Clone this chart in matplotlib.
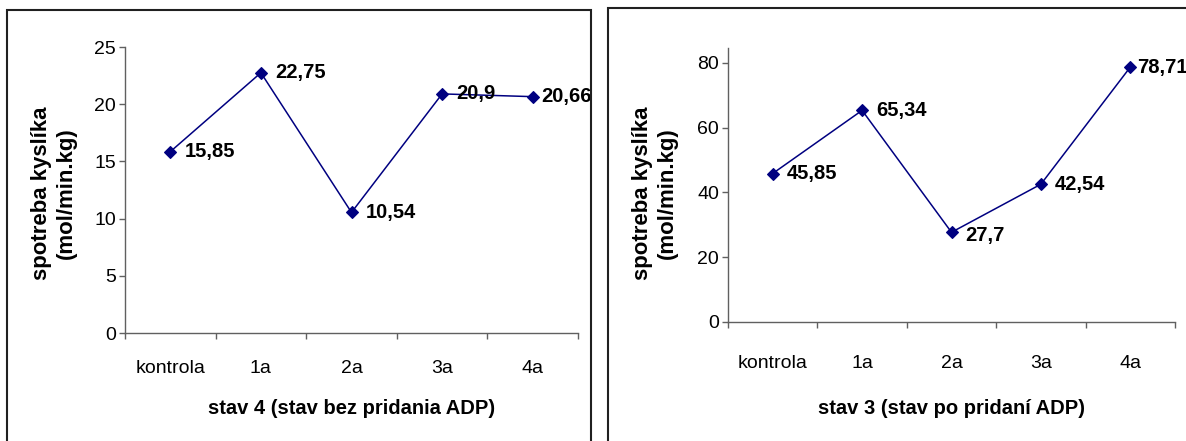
import matplotlib

matplotlib.use("Agg")
import matplotlib.pyplot as plt
from matplotlib.patches import Rectangle

plt.rcParams["font.family"] = ["Liberation Sans", "DejaVu Sans"]

categories = ["kontrola", "1a", "2a", "3a", "4a"]
stav4 = [15.85, 22.75, 10.54, 20.9, 20.66]
stav3 = [45.85, 65.34, 27.7, 42.54, 78.71]
stav4_labels = ["15,85", "22,75", "10,54", "20,9", "20,66"]
stav3_labels = ["45,85", "65,34", "27,7", "42,54", "78,71"]
stav4_ticks = [0, 5, 10, 15, 20, 25]
stav3_ticks = [0, 20, 40, 60, 80]

ylabel = "spotreba kyslíka\n(mol/min.kg)"
xlabel4 = "stav 4 (stav bez pridania ADP)"
xlabel3 = "stav 3 (stav po pridaní ADP)"

W, H = 1186, 441
LINE = "#000080"
AXIS = "#606060"


def px_x(x):
    return x / W


def px_y(y):
    return (H - y) / H


def draw_panel(ax, values, labels, yticks, ylim, dx, dy, cat_pad):
    x = list(range(len(categories)))
    ax.plot(x, values, color=LINE, lw=1.1, marker="D", ms=6,
            mfc=LINE, mec=LINE, mew=0.8, clip_on=False, zorder=3)
    for xi, v, lab, ox, oy in zip(x, values, labels, dx, dy):
        ax.annotate(lab, (xi, v), xytext=(ox * 0.72, oy * 0.72),
                    textcoords="offset points", ha="left", va="center",
                    fontsize=14.5, fontweight="bold", annotation_clip=False)
    ax.set_xlim(-0.5, len(categories) - 0.5)
    ax.set_ylim(*ylim)
    ax.set_yticks(yticks)
    ax.set_yticklabels([str(t) for t in yticks])
    ax.set_xticks([i - 0.5 for i in range(len(categories) + 1)])
    ax.set_xticklabels([])
    ax.set_xticks(x, minor=True)
    ax.set_xticklabels(categories, minor=True)
    ax.tick_params(axis="x", which="major", direction="out", length=4.5,
                   width=1, color=AXIS)
    ax.tick_params(axis="x", which="minor", length=0, pad=cat_pad, labelsize=14)
    ax.tick_params(axis="y", direction="out", length=4.5, width=1,
                   color=AXIS, labelsize=14, pad=2)
    for side in ("top", "right"):
        ax.spines[side].set_visible(False)
    for side in ("left", "bottom"):
        ax.spines[side].set_color(AXIS)
        ax.spines[side].set_linewidth(1)


fig = plt.figure(figsize=(W / 100, H / 100), dpi=100)

# panel frames (both run off the bottom, the right one also off the right edge)
fig.add_artist(Rectangle((px_x(7), -0.05), px_x(591) - px_x(7), px_y(10) + 0.05,
                         transform=fig.transFigure, fill=False,
                         edgecolor="#202020", lw=1.5))
fig.add_artist(Rectangle((px_x(608), -0.05), 1.05 - px_x(608), px_y(8) + 0.05,
                         transform=fig.transFigure, fill=False,
                         edgecolor="#202020", lw=1.5))

ax1 = fig.add_axes([px_x(125), px_y(333), px_x(578) - px_x(125), px_y(47) - px_y(333)])
draw_panel(ax1, stav4, stav4_labels, stav4_ticks, (0, 25),
           [14, 14, 14, 14, 9], [0, 0, 0, 0, 0], 19.5)

ax2 = fig.add_axes([px_x(728), px_y(322), px_x(1175) - px_x(728), px_y(48) - px_y(322)])
draw_panel(ax2, stav3, stav3_labels, stav3_ticks, (0, 84.6),
           [14, 14, 14, 14, 7], [0, 0, -3, 0, 0], 24)

fig.text(px_x(54), px_y(193), ylabel, rotation=90, ha="center", va="center",
         multialignment="center", fontsize=16, fontweight="bold", linespacing=1.25)
fig.text(px_x(655), px_y(193), ylabel, rotation=90, ha="center", va="center",
         multialignment="center", fontsize=16, fontweight="bold", linespacing=1.25)
fig.text(px_x(352), px_y(408), xlabel4, ha="center", va="center",
         fontsize=14.5, fontweight="bold")
fig.text(px_x(951), px_y(409), xlabel3, ha="center", va="center",
         fontsize=14.5, fontweight="bold")

fig.savefig("out.png", dpi=100)
